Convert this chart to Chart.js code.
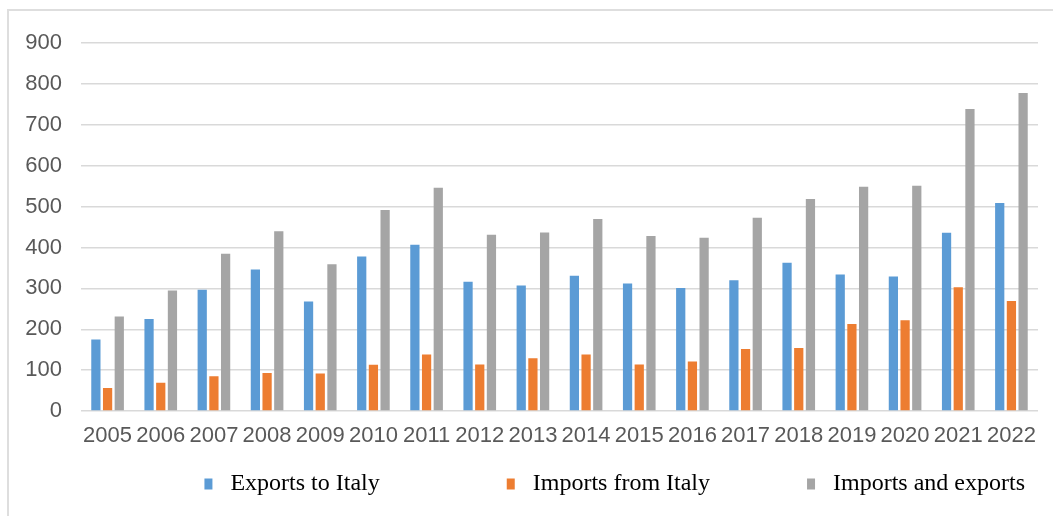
<!DOCTYPE html>
<html>
<head>
<meta charset="utf-8">
<script src="https://cdn.jsdelivr.net/npm/chart.js@4"></script>
<style>
    html, body { margin: 0; padding: 0; background: #fff; overflow: hidden; }
    #frame {
        position: absolute; left: 7px; top: 9px; width: 1300px; height: 560px;
        border-top: 2px solid #dedede; border-left: 2px solid #dedede;
    }
    #chartBox { position: absolute; left: 0; top: 0; width: 1044px; height: 495px; }
</style>
</head>
<body>
<div id="frame">
    <div id="chartBox"><canvas id="tradeChart"></canvas></div>
</div>
<script>
const years = ['2005', '2006', '2007', '2008', '2009', '2010', '2011', '2012', '2013',
    '2014', '2015', '2016', '2017', '2018', '2019', '2020', '2021', '2022'];
const exportsToItaly = [175, 225, 297, 346, 268, 378, 407, 316, 307, 331, 312, 301, 320, 363, 334, 329, 436, 509];
const importsFromItaly = [56, 69, 85, 93, 92, 113, 138, 114, 129, 138, 114, 121, 152, 154, 213, 222, 303, 269];
const importsAndExports = [231, 295, 385, 440, 359, 492, 546, 431, 437, 470, 428, 424, 473, 519, 549, 551, 739, 778];
const seriesNames = ['Exports to Italy', 'Imports from Italy', 'Imports and exports'];
const yTicks = [0, 100, 200, 300, 400, 500, 600, 700, 800, 900];

const tickFont = { family: "'Liberation Sans', Arial, sans-serif", size: 22 };
const nbsp = '\u00a0';
// extra trailing space so the legend entries sit in equal slots like the original
const legendTail = [19, 14, 0];

function makeBar(label, values, color) {
    return {
        label: label,
        data: values,
        backgroundColor: color,
        categoryPercentage: 0.66,
        barPercentage: 0.79
    };
}

new Chart(document.getElementById('tradeChart'), {
    type: 'bar',
    data: {
        labels: years,
        datasets: [
            makeBar(seriesNames[0], exportsToItaly, '#5B9BD5'),
            makeBar(seriesNames[1], importsFromItaly, '#ED7D31'),
            makeBar(seriesNames[2], importsAndExports, '#A5A5A5')
        ]
    },
    options: {
        responsive: true,
        maintainAspectRatio: false,
        animation: false,
        layout: { padding: { top: 22, right: 15, left: 0, bottom: 0 } },
        plugins: {
            tooltip: { enabled: false },
            legend: {
                position: 'bottom',
                align: 'end',
                labels: {
                    font: { family: "'Liberation Serif', 'Times New Roman', serif", size: 24 },
                    color: '#000',
                    boxWidth: 8,
                    boxHeight: 11,
                    padding: 13,
                    generateLabels: function (chart) {
                        const items = Chart.defaults.plugins.legend.labels.generateLabels(chart);
                        items.forEach(function (item, i) {
                            item.text = ' ' + item.text + nbsp.repeat(legendTail[i]);
                            item.lineWidth = 0;
                        });
                        return items;
                    }
                }
            }
        },
        scales: {
            x: {
                grid: { display: false },
                border: { display: false },
                ticks: {
                    font: tickFont,
                    color: '#595959',
                    padding: 4,
                    maxRotation: 0,
                    autoSkip: false
                },
                afterFit: function (scale) { scale.height = 48; }
            },
            y: {
                min: 0,
                max: 900,
                afterBuildTicks: function (scale) {
                    scale.ticks = yTicks.map(function (v) { return { value: v }; });
                },
                grid: { color: '#d9d9d9', lineWidth: 1.5, drawTicks: false },
                border: { display: false },
                ticks: { font: tickFont, color: '#595959', padding: 19 },
                afterFit: function (scale) { scale.width = 72; }
            }
        }
    }
});
</script>
</body>
</html>
